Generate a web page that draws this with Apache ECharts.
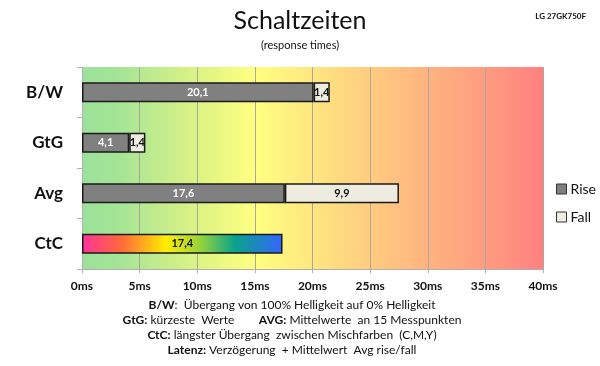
<!DOCTYPE html>
<html>
<head>
<meta charset="utf-8">
<script src="https://cdn.jsdelivr.net/npm/echarts@6/dist/echarts.min.js"></script>
<style>html,body{margin:0;padding:0;background:#fff}#c{width:600px;height:366px}</style>
</head>
<body>
<div id="c"></div>
<script>
var categories = ['B/W', 'GtG', 'Avg', 'CtC'];
var riseValues = [20.1, 4.1, 17.6, 17.4];
var fallValues = [1.4, 1.4, 9.9, null];
var xTicks = [0, 5, 10, 15, 20, 25, 30, 35, 40];
var titleText = 'Schaltzeiten';
var subtitleText = '(response times)';
var modelText = 'LG 27GK750F';

var FONT = 'Lato';
var chart = echarts.init(document.getElementById('c'), null, {renderer: 'canvas'});

var ctcGradient = new echarts.graphic.LinearGradient(0, 0, 1, 0, [
  {offset: 0, color: '#ff3399'},
  {offset: 0.2, color: '#ff6a3a'},
  {offset: 0.42, color: '#ffee00'},
  {offset: 0.6, color: '#8fd13f'},
  {offset: 0.76, color: '#0aa38a'},
  {offset: 1, color: '#3366ff'}
]);
var bgGradient = new echarts.graphic.LinearGradient(0, 0, 1, 0, [
  {offset: 0, color: '#9ce29a'},
  {offset: 0.08, color: '#a5e496'},
  {offset: 0.25, color: '#dcf384'},
  {offset: 0.375, color: '#ffff80'},
  {offset: 0.5, color: '#ffe680'},
  {offset: 0.625, color: '#ffcc80'},
  {offset: 0.75, color: '#ffb380'},
  {offset: 0.875, color: '#ff9c80'},
  {offset: 1, color: '#ff8080'}
]);

var riseData = riseValues.map(function (v, i) {
  if (categories[i] === 'CtC') {
    return {value: v, itemStyle: {color: ctcGradient}, label: {color: '#111'}};
  }
  return v;
});
var fallData = fallValues.map(function (v) { return v === null ? '-' : v; });

function fmt(p) { return String(p.value).replace('.', ','); }

var barBorder = {borderColor: '#1a1a1a', borderWidth: 1.5};

chart.setOption({
  animation: false,
  textStyle: {fontFamily: FONT},
  grid: {
    left: 82, right: 57, top: 67, bottom: 97,
    show: true, backgroundColor: bgGradient, borderWidth: 0
  },
  title: [
    {text: titleText, left: 'center', top: 3, textStyle: {fontFamily: FONT, fontSize: 25, fontWeight: 'normal', color: '#111'}},
    {text: subtitleText, left: 'center', top: 35, textStyle: {fontFamily: FONT, fontSize: 11, fontWeight: 'normal', color: '#111'}},
    {text: modelText, right: 9, top: 7, textStyle: {fontFamily: FONT, fontSize: 8, fontWeight: 'bold', color: '#111'}}
  ],
  legend: {
    orient: 'vertical', left: 551, top: 177,
    itemWidth: 10, itemHeight: 10, itemGap: 14, icon: 'rect',
    textStyle: {fontFamily: FONT, fontSize: 14, color: '#111', padding: [0, 0, 0, -1]},
    data: [
      {name: 'Rise', itemStyle: {color: '#808080', borderColor: '#333', borderWidth: 1}},
      {name: 'Fall', itemStyle: {color: '#eeece1', borderColor: '#333', borderWidth: 1}}
    ]
  },
  xAxis: {
    type: 'value', min: xTicks[0], max: xTicks[xTicks.length - 1], interval: 5,
    axisLine: {show: true, lineStyle: {color: '#b0b0b0'}},
    axisTick: {show: true, length: 4, lineStyle: {color: '#b0b0b0'}},
    splitLine: {show: true, lineStyle: {color: '#a8a8a0', width: 1}},
    axisLabel: {formatter: '{value}ms', fontFamily: FONT, fontWeight: 'bold', fontSize: 12, color: '#111', margin: 11}
  },
  yAxis: {
    type: 'category', data: categories, inverse: true,
    axisLine: {show: true, lineStyle: {color: '#b0b0b0'}},
    axisTick: {show: true, length: 5, lineStyle: {color: '#b0b0b0'}},
    axisLabel: {fontFamily: FONT, fontWeight: 'bold', fontSize: 17, color: '#111', margin: 19}
  },
  series: [
    {
      name: 'Rise', type: 'bar', stack: 'rt', barWidth: 20, data: riseData,
      itemStyle: Object.assign({color: '#808080'}, barBorder),
      label: {show: true, position: 'inside', formatter: fmt, fontFamily: FONT, fontWeight: 'bold', fontSize: 11, color: '#fff'}
    },
    {
      name: 'Fall', type: 'bar', stack: 'rt', barWidth: 20, data: fallData,
      itemStyle: Object.assign({color: '#eeece1'}, barBorder),
      label: {show: true, position: 'inside', formatter: fmt, fontFamily: FONT, fontWeight: 'bold', fontSize: 11, color: '#111', overflow: 'none'}
    }
  ],
  graphic: [
    {type: 'text', x: 292, y: 305, style: {
      text: '{b|B/W}:  Übergang von 100% Helligkeit auf 0% Helligkeit',
      align: 'center', verticalAlign: 'middle', font: '12px ' + FONT, fill: '#111',
      rich: {b: {fontWeight: 'bold', fontSize: 12, fontFamily: FONT}}
    }},
    {type: 'text', x: 292, y: 320, style: {
      text: '{b|GtG:} kürzeste  Werte        {b|AVG:} Mittelwerte  an 15 Messpunkten',
      align: 'center', verticalAlign: 'middle', font: '12px ' + FONT, fill: '#111',
      rich: {b: {fontWeight: 'bold', fontSize: 12, fontFamily: FONT}}
    }},
    {type: 'text', x: 292, y: 335, style: {
      text: '{b|CtC:} längster Übergang  zwischen Mischfarben  (C,M,Y)',
      align: 'center', verticalAlign: 'middle', font: '12px ' + FONT, fill: '#111',
      rich: {b: {fontWeight: 'bold', fontSize: 12, fontFamily: FONT}}
    }},
    {type: 'text', x: 292, y: 350, style: {
      text: '{b|Latenz:} Verzögerung  + Mittelwert  Avg rise/fall',
      align: 'center', verticalAlign: 'middle', font: '12px ' + FONT, fill: '#111',
      rich: {b: {fontWeight: 'bold', fontSize: 12, fontFamily: FONT}}
    }}
  ]
});
</script>
</body>
</html>
